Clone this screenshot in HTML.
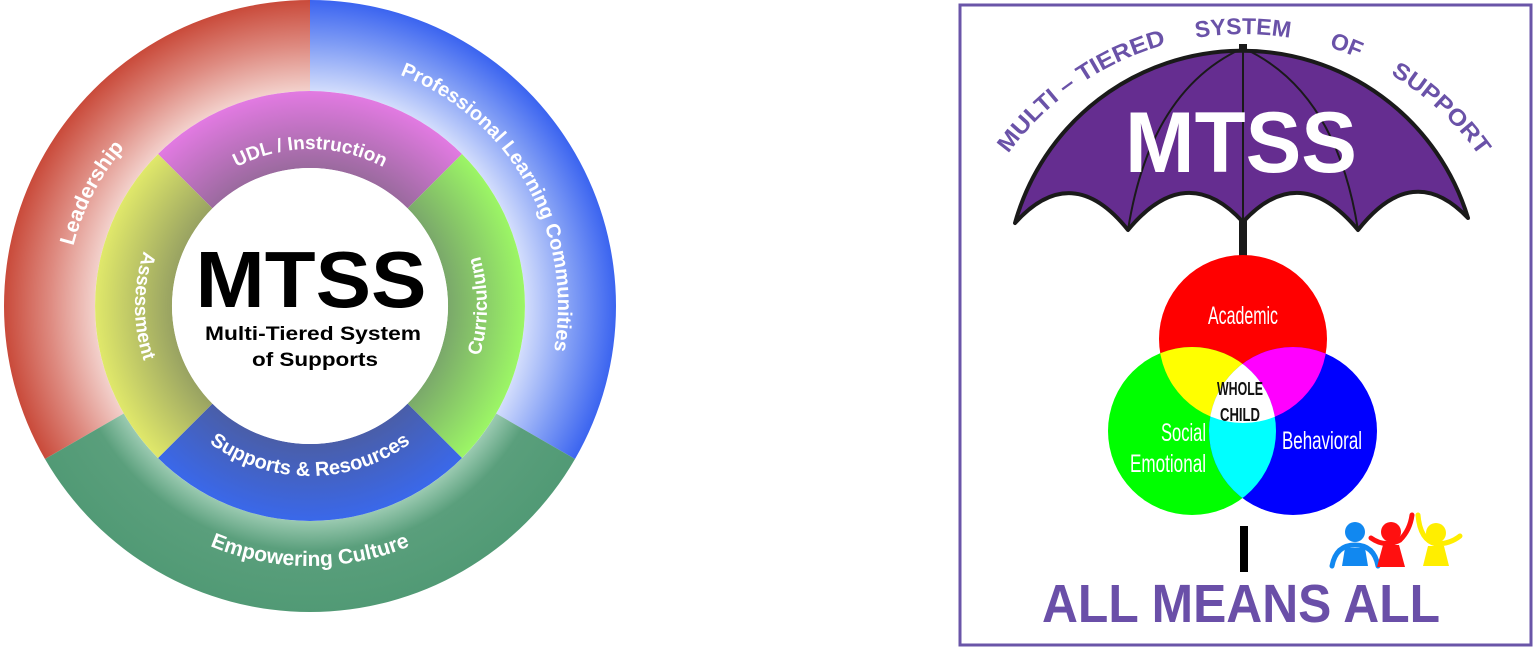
<!DOCTYPE html>
<html><head><meta charset="utf-8"><style>
html,body{margin:0;padding:0;background:#fff;}
svg{display:block;}
</style></head><body>
<svg width="1536" height="650" viewBox="0 0 1536 650" xmlns="http://www.w3.org/2000/svg">
<defs>
<radialGradient id="gRed" gradientUnits="userSpaceOnUse" cx="310" cy="306" r="306">
 <stop offset="0.70" stop-color="#f3d2cd"/><stop offset="0.85" stop-color="#de8a80"/><stop offset="1" stop-color="#c94a3a"/>
</radialGradient>
<radialGradient id="gBlue" gradientUnits="userSpaceOnUse" cx="310" cy="306" r="306">
 <stop offset="0.70" stop-color="#d4defc"/><stop offset="0.86" stop-color="#7f9cf5"/><stop offset="1" stop-color="#3b64f0"/>
</radialGradient>
<radialGradient id="gGreen" gradientUnits="userSpaceOnUse" cx="310" cy="306" r="306">
 <stop offset="0.70" stop-color="#9ccbb2"/><stop offset="0.80" stop-color="#5a9f7c"/><stop offset="1" stop-color="#519a75"/>
</radialGradient>
<radialGradient id="gPink" gradientUnits="userSpaceOnUse" cx="310" cy="306" r="215">
 <stop offset="0.64" stop-color="#9a6a9e"/><stop offset="1" stop-color="#e27ae2"/>
</radialGradient>
<radialGradient id="gYel" gradientUnits="userSpaceOnUse" cx="310" cy="306" r="215">
 <stop offset="0.64" stop-color="#98a262"/><stop offset="1" stop-color="#e0e86a"/>
</radialGradient>
<radialGradient id="gLime" gradientUnits="userSpaceOnUse" cx="310" cy="306" r="215">
 <stop offset="0.64" stop-color="#7aa86a"/><stop offset="1" stop-color="#9cf666"/>
</radialGradient>
<radialGradient id="gBlu2" gradientUnits="userSpaceOnUse" cx="310" cy="306" r="215">
 <stop offset="0.64" stop-color="#4a5ea8"/><stop offset="1" stop-color="#3a68ea"/>
</radialGradient>
<path id="cw244" d="M310,550 A244,244 0 1 1 310,62 A244,244 0 1 1 310,550"/>
<path id="cw248" d="M310,554 A248,248 0 1 1 310,58 A248,248 0 1 1 310,554"/>
<path id="cw157" d="M310,463 A157,157 0 1 1 310,149 A157,157 0 1 1 310,463"/>
<path id="ccw260" d="M310,46 A260,260 0 1 0 310,566 A260,260 0 1 0 310,46"/>
<path id="ccw170" d="M310,136 A170,170 0 1 0 310,476 A170,170 0 1 0 310,136"/>
<path id="ccw175" d="M310,131 A175,175 0 1 0 310,481 A175,175 0 1 0 310,131"/>
<path id="ccw177" d="M310,129 A177,177 0 1 0 310,483 A177,177 0 1 0 310,129"/>
<path id="umb" d="M991.9,179 A290,290 0 0 1 1494.1,179"/>
<clipPath id="cR"><circle cx="1243" cy="339" r="84"/></clipPath>
<clipPath id="cG"><circle cx="1192" cy="431" r="84"/></clipPath>
<clipPath id="cB"><circle cx="1293" cy="431" r="84"/></clipPath>
</defs>

<path d="M45,459 A306,306 0 0 1 310,0 L310,91 A215,215 0 0 0 123.8,413.5 Z" fill="url(#gRed)"/>
<path d="M310,0 A306,306 0 0 1 575,459 L496.2,413.5 A215,215 0 0 0 310,91 Z" fill="url(#gBlue)"/>
<path d="M575,459 A306,306 0 0 1 45,459 L123.8,413.5 A215,215 0 0 0 496.2,413.5 Z" fill="url(#gGreen)"/>
<path d="M158,154 A215,215 0 0 1 462,154 L407.6,208.4 A138,138 0 0 0 212.4,208.4 Z" fill="url(#gPink)"/>
<path d="M462,154 A215,215 0 0 1 462,458 L407.6,403.6 A138,138 0 0 0 407.6,208.4 Z" fill="url(#gLime)"/>
<path d="M462,458 A215,215 0 0 1 158,458 L212.4,403.6 A138,138 0 0 0 407.6,403.6 Z" fill="url(#gBlu2)"/>
<path d="M158,458 A215,215 0 0 1 158,154 L212.4,208.4 A138,138 0 0 0 212.4,403.6 Z" fill="url(#gYel)"/>
<circle cx="310" cy="306" r="138" fill="#fff"/>

<g font-family="Liberation Sans, sans-serif" font-weight="bold" fill="#fff">
<text font-size="21"><textPath href="#cw244" startOffset="32.6%" text-anchor="middle">Leadership</textPath></text>
<text font-size="20"><textPath href="#cw248" startOffset="66.9%" text-anchor="middle">Professional Learning Communities</textPath></text>
<text font-size="21"><textPath href="#ccw260" startOffset="50%" text-anchor="middle">Empowering Culture</textPath></text>
<text font-size="20"><textPath href="#ccw170" startOffset="50%" text-anchor="middle">Supports &amp; Resources</textPath></text>
<text font-size="19"><textPath href="#ccw175" startOffset="25%" text-anchor="middle">Assessment</textPath></text>
<text font-size="19"><textPath href="#ccw177" startOffset="75%" text-anchor="middle">Curriculum</textPath></text>
<text font-size="19"><textPath href="#cw157" startOffset="50%" text-anchor="middle">UDL / Instruction</textPath></text>
</g>
<g font-family="Liberation Sans, sans-serif" font-weight="bold" fill="#000" text-anchor="middle">
<text x="311" y="307" font-size="80" textLength="231" lengthAdjust="spacingAndGlyphs">MTSS</text>
<text x="313" y="340" font-size="19" textLength="216" lengthAdjust="spacingAndGlyphs">Multi-Tiered System</text>
<text x="315" y="366" font-size="19" textLength="126" lengthAdjust="spacingAndGlyphs">of Supports</text>
</g>

<rect x="960" y="5" width="571" height="640" fill="none" stroke="#6a55a8" stroke-width="3"/>

<path d="M1015,223 A236,236 0 0 1 1468,218 Q1413,160 1358,230 Q1300,160 1243,222 Q1186,160 1128,230 Q1072,160 1015,223 Z" fill="#652d90" stroke="#1a1a1a" stroke-width="4" stroke-linejoin="round"/>
<path d="M1243,48 Q1150,90 1128,230" fill="none" stroke="#1a1a1a" stroke-width="2"/>
<path d="M1243,48 Q1336,90 1358,230" fill="none" stroke="#1a1a1a" stroke-width="2"/>
<line x1="1243" y1="48" x2="1243" y2="222" stroke="#1a1a1a" stroke-width="2"/>
<rect x="1239" y="44" width="8" height="6" fill="#1a1a1a"/>
<rect x="1239" y="220" width="8" height="36" fill="#1a1a1a"/>
<text x="1241" y="172" font-family="Liberation Sans, sans-serif" font-weight="bold" font-size="86" fill="#fff" text-anchor="middle" textLength="232" lengthAdjust="spacingAndGlyphs">MTSS</text>

<g font-family="Liberation Sans, sans-serif" font-weight="bold" font-size="23" fill="#6a52a8">
<text><textPath href="#umb" startOffset="30" textLength="196" lengthAdjust="spacingAndGlyphs">MULTI – TIERED</textPath></text>
<text><textPath href="#umb" startOffset="50%" text-anchor="middle">SYSTEM</textPath></text>
<text><textPath href="#umb" startOffset="67%" text-anchor="middle">OF</textPath></text>
<text><textPath href="#umb" startOffset="458" textLength="122" lengthAdjust="spacingAndGlyphs">SUPPORT</textPath></text>
</g>

<circle cx="1243" cy="339" r="84" fill="#ff0000"/>
<circle cx="1192" cy="431" r="84" fill="#00ff00"/>
<circle cx="1293" cy="431" r="84" fill="#0000ff"/>
<g clip-path="url(#cR)">
 <circle cx="1192" cy="431" r="84" fill="#ffff00"/>
 <circle cx="1293" cy="431" r="84" fill="#ff00ff"/>
</g>
<g clip-path="url(#cG)">
 <circle cx="1293" cy="431" r="84" fill="#00ffff"/>
 <g clip-path="url(#cB)"><circle cx="1243" cy="339" r="84" fill="#ffffff"/></g>
</g>
<g font-family="Liberation Sans, sans-serif" fill="#fff" font-size="25">
<text x="1208" y="324" textLength="70" lengthAdjust="spacingAndGlyphs">Academic</text>
<text x="1161" y="441" textLength="45" lengthAdjust="spacingAndGlyphs">Social</text>
<text x="1130" y="472" textLength="76" lengthAdjust="spacingAndGlyphs">Emotional</text>
<text x="1282" y="449" textLength="80" lengthAdjust="spacingAndGlyphs">Behavioral</text>
</g>
<g font-family="Liberation Sans, sans-serif" fill="#111" font-size="18" font-weight="bold">
<text x="1217" y="395" textLength="46" lengthAdjust="spacingAndGlyphs">WHOLE</text>
<text x="1220" y="421" textLength="40" lengthAdjust="spacingAndGlyphs">CHILD</text>
</g>

<rect x="1240" y="526" width="8" height="46" fill="#000"/>

<g>
 <circle cx="1355" cy="532" r="10" fill="#1188f0"/>
 <path d="M1332,566 Q1336,545 1355,545 Q1374,545 1378,566" fill="none" stroke="#1188f0" stroke-width="5" stroke-linecap="round"/>
 <path d="M1345,548 L1365,548 L1368,566 L1342,566 Z" fill="#1188f0"/>
 <circle cx="1391" cy="532" r="10" fill="#ff1010"/>
 <path d="M1371,538 Q1385,548 1400,540 Q1410,530 1412,515" fill="none" stroke="#ff1010" stroke-width="5" stroke-linecap="round"/>
 <path d="M1383,545 L1399,545 L1405,567 L1377,567 Z" fill="#ff1010"/>
 <circle cx="1436" cy="533" r="10" fill="#ffee00"/>
 <path d="M1418,515 Q1420,540 1436,544 Q1450,544 1460,536" fill="none" stroke="#ffee00" stroke-width="5" stroke-linecap="round"/>
 <path d="M1428,546 L1444,546 L1449,566 L1423,566 Z" fill="#ffee00"/>
</g>

<text x="1241" y="622" font-family="Liberation Sans, sans-serif" font-weight="bold" font-size="54" fill="#6a4fa8" text-anchor="middle" textLength="398" lengthAdjust="spacingAndGlyphs">ALL MEANS ALL</text>
</svg>
</body></html>
